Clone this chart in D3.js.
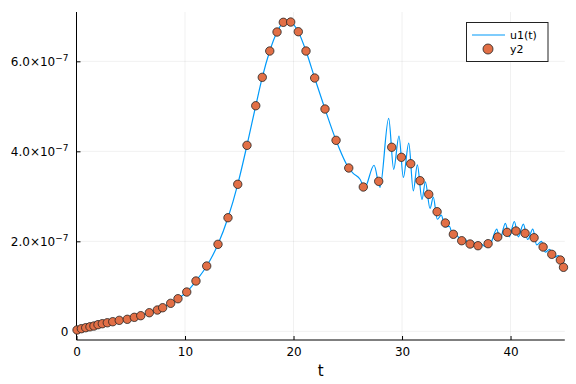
<!DOCTYPE html>
<html>
<head>
<meta charset="utf-8">
<script src="https://cdn.jsdelivr.net/npm/d3@7"></script>
<style>
  body { margin: 0; background: #fff; }
  svg { display: block; font-family: "DejaVu Sans", sans-serif; }
</style>
</head>
<body>
<div id="chart"></div>
<script>
// values are in units of 1e-7
const unit = 1e-7;

// scatter samples y2
const pointT = [0.05, 0.45, 0.85, 1.24, 1.61, 1.98, 2.38, 2.84, 3.34, 3.94,
    4.68, 5.33, 5.92, 6.71, 7.45, 7.94, 8.68, 9.35, 10.16, 11.01,
    12.0, 13.04, 13.96, 14.86, 15.71, 16.52, 17.12, 17.81, 18.48, 19.06,
    19.74, 20.44, 21.15, 21.95, 22.9, 23.92, 25.09, 26.43, 27.85, 29.05,
    29.94, 30.8, 31.66, 32.46, 33.23, 33.99, 34.73, 35.5, 36.27, 37.0,
    37.93, 38.82, 39.68, 40.5, 41.34, 42.17, 43.0, 43.8, 44.59, 44.88];
const pointV = [0.03, 0.058, 0.08, 0.10, 0.118, 0.147, 0.169, 0.19, 0.213, 0.244,
    0.267, 0.311, 0.347, 0.413, 0.473, 0.524, 0.622, 0.724, 0.873, 1.118,
    1.451, 1.933, 2.524, 3.267, 4.133, 5.013, 5.644, 6.229, 6.651, 6.867,
    6.873, 6.658, 6.229, 5.629, 4.94, 4.244, 3.629, 3.207, 3.333, 4.09,
    3.867, 3.724, 3.347, 3.044, 2.658, 2.407, 2.156, 2.013, 1.94, 1.902,
    1.947, 2.096, 2.2, 2.229, 2.178, 2.08, 1.873, 1.711, 1.584, 1.422];

// line u1(t)
const lineT = [0, 0.45, 0.85, 1.24, 1.61, 1.98, 2.38, 2.84, 3.34, 3.94,
    4.68, 5.33, 5.92, 6.71, 7.45, 7.94, 8.68, 9.35, 10.16, 11.01,
    12.0, 13.04, 13.96, 14.86, 15.71, 16.52, 17.12, 17.81, 18.48, 19.06,
    19.4, 19.74, 20.44, 21.15, 21.95, 22.9, 23.92, 25.09, 25.5, 26.13,
    26.55, 27.42, 27.97, 28.77, 29.23, 29.72, 30.12, 30.62, 31.04, 31.41,
    31.84, 32.15, 32.58, 32.88, 33.25, 33.62, 33.95, 34.36, 34.7, 35.1,
    35.45, 35.84, 36.2, 36.58, 36.95, 37.32, 37.7, 38.2, 38.73, 39.03,
    39.52, 39.89, 40.35, 40.72, 41.18, 41.58, 42.05, 42.41, 42.85, 43.2,
    43.6, 43.98, 44.4, 44.75, 45];
const lineV = [0.01, 0.058, 0.08, 0.10, 0.118, 0.147, 0.169, 0.19, 0.213, 0.244,
    0.267, 0.311, 0.347, 0.413, 0.473, 0.524, 0.622, 0.724, 0.873, 1.118,
    1.451, 1.933, 2.524, 3.267, 4.133, 5.013, 5.644, 6.229, 6.651, 6.867,
    6.9, 6.873, 6.658, 6.229, 5.629, 4.94, 4.244, 3.629, 3.51, 3.38,
    3.19, 3.69, 3.20, 4.73, 3.60, 4.34, 3.42, 4.18, 3.12, 3.70,
    2.93, 3.32, 2.73, 2.98, 2.49, 2.58, 2.32, 2.33, 2.12, 2.12,
    1.98, 2.04, 1.92, 1.97, 1.88, 1.93, 1.88, 1.97, 2.27, 2.04,
    2.40, 2.10, 2.44, 2.10, 2.38, 2.04, 2.27, 1.92, 2.0, 1.76,
    1.82, 1.64, 1.68, 1.52, 1.45];

const xTicks = [0, 10, 20, 30, 40];
const yTicks = [0, 2, 4, 6];
const yTickLabels = ["0", "2.0×10", "4.0×10", "6.0×10"];

const W = 576, H = 384;
const plotLeft = 76.5, plotRight = 564.8, plotTop = 12, plotBottom = 340;

const svg = d3.select("#chart").append("svg")
    .attr("width", W).attr("height", H);

const x = d3.scaleLinear().domain([0, 45]).range([plotLeft, plotRight]);
const y = d3.scaleLinear().domain([-0.193 * unit, 7.096 * unit]).range([plotBottom, plotTop]);

// grid
svg.append("g")
    .selectAll("line.gx")
    .data(xTicks)
    .enter().append("line")
    .attr("x1", d => x(d)).attr("x2", d => x(d))
    .attr("y1", plotTop).attr("y2", plotBottom)
    .attr("stroke", "#000").attr("stroke-opacity", 0.1).attr("stroke-width", 0.6);
svg.append("g")
    .selectAll("line.gy")
    .data(yTicks)
    .enter().append("line")
    .attr("x1", plotLeft).attr("x2", plotRight)
    .attr("y1", d => y(d * unit)).attr("y2", d => y(d * unit))
    .attr("stroke", "#000").attr("stroke-opacity", 0.1).attr("stroke-width", 0.6);

// axes
let xAxis = d3.axisBottom(x).tickValues(xTicks).tickSizeInner(-4).tickSizeOuter(0).tickPadding(7);
let gx = svg.append("g")
    .attr("transform", "translate(0," + plotBottom + ")")
    .call(xAxis)
    .attr("font-family", null);
gx.select(".domain").attr("d", "M" + plotLeft + ",0H" + plotRight);
gx.selectAll("text").style("font-size", "12px").attr("fill", "#000");

let yAxis = d3.axisLeft(y).tickValues(yTicks.map(d => d * unit)).tickSizeInner(-4).tickSizeOuter(0).tickPadding(8);
let gy = svg.append("g")
    .attr("transform", "translate(" + plotLeft + ",0)")
    .call(yAxis)
    .attr("font-family", null);
gy.select(".domain").attr("d", "M0," + plotTop + "V" + plotBottom);
gy.selectAll("text")
    .style("font-size", "12px").attr("fill", "#000")
    .each(function (d, i) {
        let t = d3.select(this);
        t.text("");
        t.append("tspan").text(yTickLabels[i]);
        if (i > 0) {
            t.append("tspan").attr("dy", "-0.5em").style("font-size", "9px").text("−7");
        }
    });

// x label
svg.append("text")
    .attr("x", (plotLeft + plotRight) / 2).attr("y", 376)
    .attr("text-anchor", "middle")
    .style("font-size", "15px")
    .text("t");

// line u1(t)
let lineData = lineT.map((t, i) => [t, lineV[i] * unit]);
let line = d3.line()
    .x(d => x(d[0]))
    .y(d => y(d[1]))
    .curve(d3.curveMonotoneX);

svg.append("path")
    .datum(lineData)
    .attr("d", line)
    .attr("fill", "none")
    .attr("stroke", "#009AFA")
    .attr("stroke-width", 1.2);

// scatter y2
svg.append("g")
    .selectAll("circle")
    .data(pointT.map((t, i) => [t, pointV[i] * unit]))
    .enter().append("circle")
    .attr("cx", d => x(d[0]))
    .attr("cy", d => y(d[1]))
    .attr("r", 4.2)
    .attr("fill", "#E26F46")
    .attr("stroke", "#222")
    .attr("stroke-width", 0.8);

// legend
let lg = svg.append("g");
lg.append("rect")
    .attr("x", 466.5).attr("y", 22.5).attr("width", 81.5).attr("height", 39)
    .attr("fill", "#fff").attr("stroke", "#222").attr("stroke-width", 1);
lg.append("line")
    .attr("x1", 472).attr("x2", 505).attr("y1", 35).attr("y2", 35)
    .attr("stroke", "#009AFA").attr("stroke-width", 1.2);
lg.append("text").attr("x", 510).attr("y", 39).style("font-size", "11px").text("u1(t)");
lg.append("circle")
    .attr("cx", 488).attr("cy", 49).attr("r", 5)
    .attr("fill", "#E26F46").attr("stroke", "#222").attr("stroke-width", 0.8);
lg.append("text").attr("x", 510).attr("y", 53).style("font-size", "11px").text("y2");
</script>
</body>
</html>
